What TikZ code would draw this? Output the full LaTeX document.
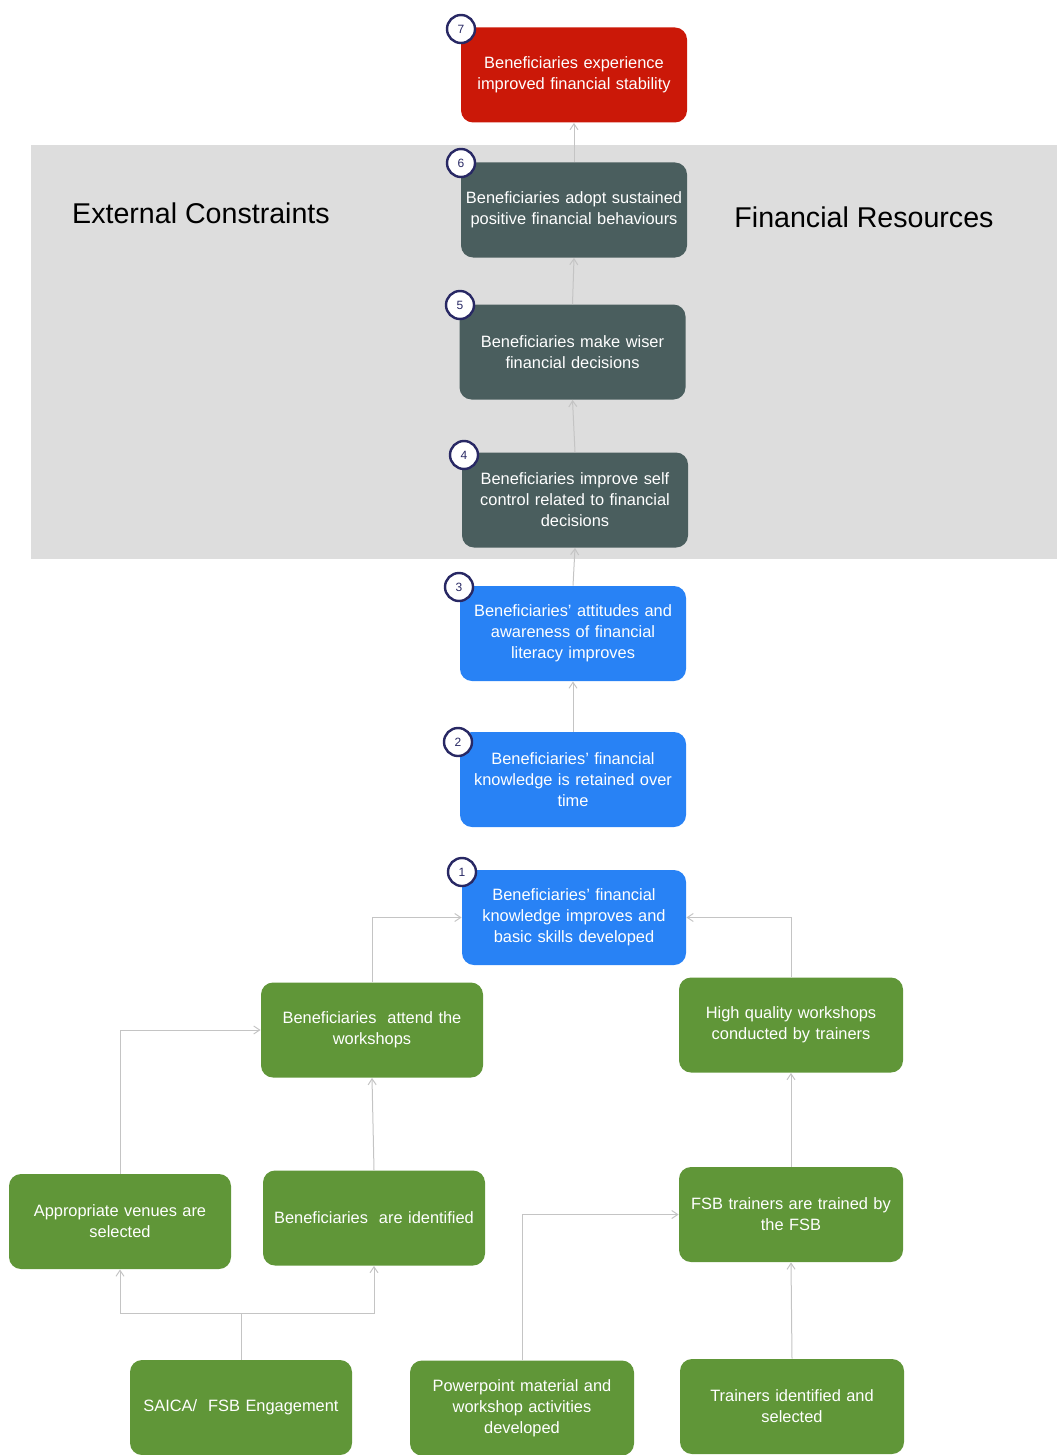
\documentclass[tikz,border=0pt]{standalone}
\usepackage{fontspec}
\setmainfont{Liberation Sans}
\usetikzlibrary{arrows.meta}
\definecolor{outcomeRed}{RGB}{203,24,8}
\definecolor{slateBox}{RGB}{74,94,94}
\definecolor{blueBox}{RGB}{40,130,245}
\definecolor{greenBox}{RGB}{96,150,56}
\definecolor{bandGray}{RGB}{221,221,221}
\definecolor{linkGray}{RGB}{196,196,196}
\definecolor{ringNavy}{RGB}{40,40,100}

\begin{document}
\begin{tikzpicture}[x=0.5pt, y=-0.5pt,
    box/.style={rounded corners=6pt, minimum width=113pt, minimum height=47.5pt,
      text width=110pt, align=center, inner sep=0pt, text=white,
      font=\fontsize{8.2}{10.5}\selectfont},
    greenbox/.style={box, fill=greenBox, minimum width=111pt},
    ring/.style={circle, draw=ringNavy, line width=1.2pt, fill=white,
      minimum size=14pt, inner sep=0pt, text=ringNavy, font=\fontsize{6}{6}\selectfont},
    link/.style={draw=linkGray, line width=0.5pt, -{Straight Barb[length=3pt, width=4pt]}},
    side/.style={font=\fontsize{14.3}{16}\selectfont, text=black}]
  \useasboundingbox (0,0) rectangle (1057,1455);

  % Background band
  \fill[bandGray] (31,145) rectangle (1057,559);
  \node[side] (constraints) at (201,213) {External Constraints};
  \node[side] (resources) at (864,217) {Financial Resources};

  % Outcome chain
  \node[box, fill=outcomeRed] (b7) at (574,75) {Beneficiaries experience\\improved financial stability};
  \node[box, fill=slateBox] (b6) at (574,210) {Beneficiaries adopt sustained\\positive financial behaviours};
  \node[box, fill=slateBox] (b5) at (572.5,352) {Beneficiaries make wiser\\financial decisions};
  \node[box, fill=slateBox] (b4) at (575,500) {Beneficiaries improve self\\control related to financial\\decisions};
  \node[box, fill=blueBox] (b3) at (573,633.5) {Beneficiaries' attitudes and\\awareness of financial\\literacy improves};
  \node[box, fill=blueBox] (b2) at (573,779.5) {Beneficiaries' financial\\knowledge is retained over\\time};
  \node[box, fill=blueBox, minimum width=112pt] (b1) at (574,917.5) {Beneficiaries' financial\\knowledge improves and\\basic skills developed};

  % Activities
  \node[greenbox] (attend) at (372,1030) {Beneficiaries\ \ attend the\\workshops};
  \node[greenbox, minimum width=112pt] (quality) at (791,1025) {High quality workshops\\conducted by trainers};
  \node[greenbox] (venues) at (120,1221.5) {Appropriate venues are\\selected};
  \node[greenbox] (ident) at (374,1218) {Beneficiaries\ \ are identified};
  \node[greenbox, minimum width=112pt] (fsb) at (791,1214.5) {FSB trainers are trained by\\the FSB};
  \node[greenbox] (saica) at (241,1407.5) {SAICA/\ \ FSB Engagement};
  \node[greenbox, minimum width=112pt] (ppt) at (522,1408) {Powerpoint material and\\workshop activities\\developed};
  \node[greenbox, minimum width=112pt] (trainers) at (792,1406.5) {Trainers identified and\\selected};

  % Links up the chain
  \draw[link] (b6.north) -- (b7.south);
  \draw[link] (b5.north) -- (b6.south);
  \draw[link] (b4.north) -- (b5.south);
  \draw[link] (b3.north) -- (b4.south);
  \draw[link] (b2.north) -- (b3.south);

  % Links between activities
  \draw[link] (attend.north) |- (b1.west);
  \draw[link] (quality.north) |- (b1.east);
  \draw[link] (venues.north) |- (attend.west);
  \draw[link] (ident.north) -- (attend.south);
  \draw[link] (fsb.north) -- (quality.south);
  \coordinate (split) at ([yshift=23pt]saica.north);
  \draw[link] (saica.north) -- (split) -| (venues.south);
  \draw[link] (split) -| (ident.south);
  \draw[link] (ppt.north) |- (fsb.west);
  \draw[link] (trainers.north) -- (fsb.south);

  % Number rings
  \node[ring] (n7) at (461,29) {7};
  \node[ring] (n6) at (461,163) {6};
  \node[ring] (n5) at (460,305) {5};
  \node[ring] (n4) at (464,455) {4};
  \node[ring] (n3) at (459,587) {3};
  \node[ring] (n2) at (458,742) {2};
  \node[ring] (n1) at (462,872) {1};
\end{tikzpicture}
\end{document}
